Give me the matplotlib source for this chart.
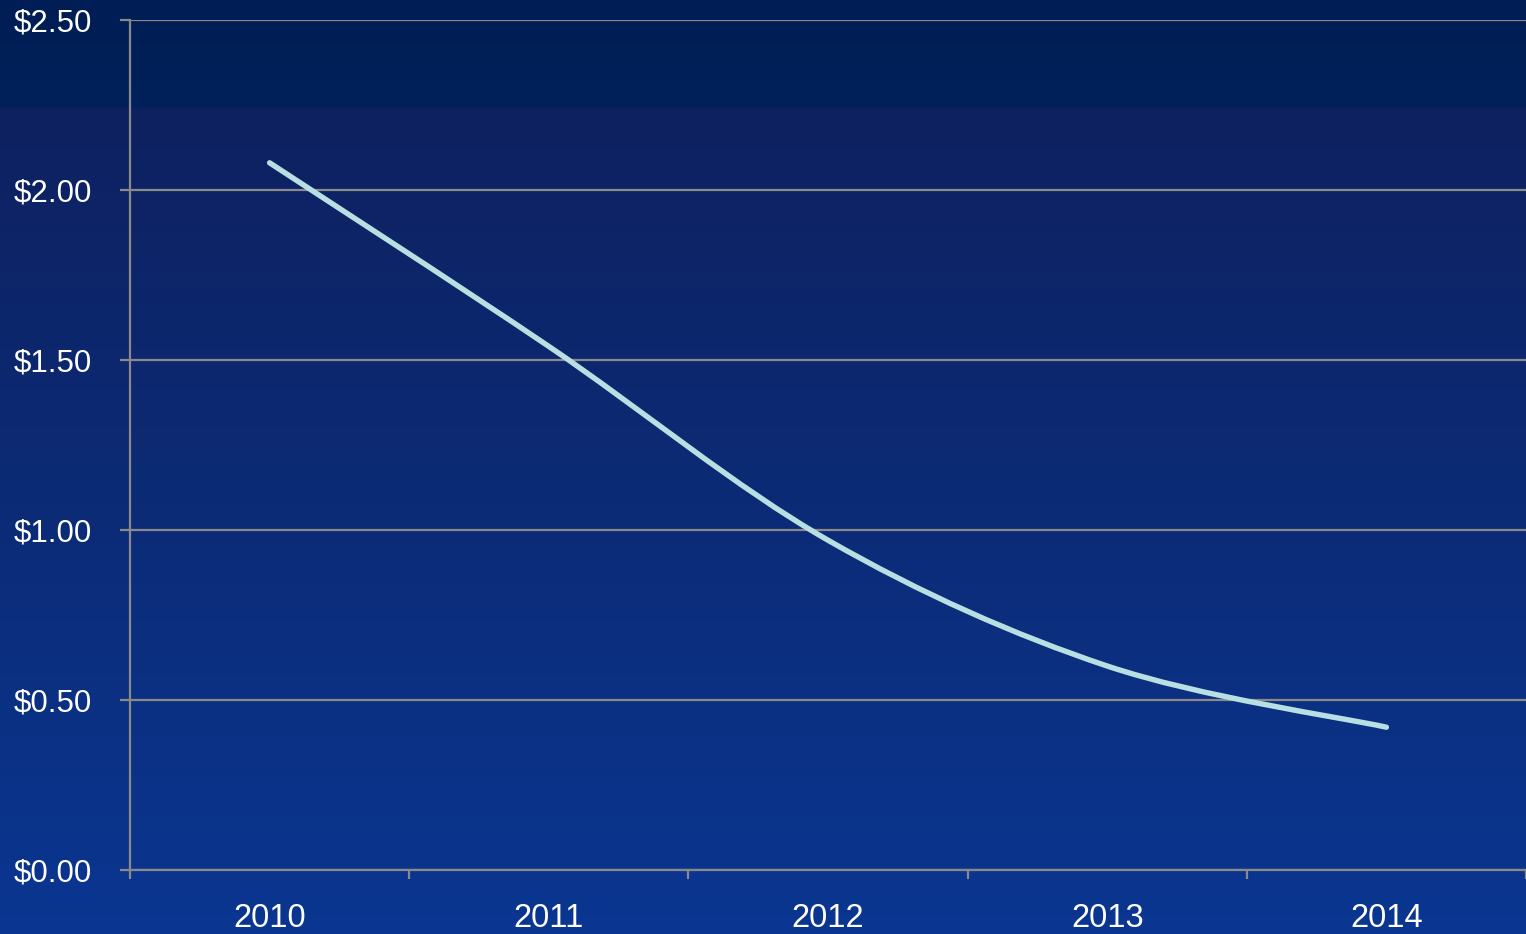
import numpy as np
import matplotlib
matplotlib.use("Agg")
import matplotlib.pyplot as plt
from matplotlib.path import Path
from matplotlib.patches import PathPatch
from matplotlib.colors import LinearSegmentedColormap
from matplotlib.ticker import FuncFormatter, MultipleLocator

# data
years = ["2010", "2011", "2012", "2013", "2014"]
values = [2.08, 1.54, 0.97, 0.60, 0.42]

plt.rcParams['font.family'] = ['Liberation Sans', 'DejaVu Sans']

fig = plt.figure(figsize=(15.26, 9.34), dpi=100)

# background gradient behind everything
bg = fig.add_axes([0, 0, 1, 1], zorder=0)
bg_cmap = LinearSegmentedColormap.from_list(
    "bg", [(0.0, "#001d55"), (0.11, "#00215a"), (0.115, "#0e2160"),
           (0.5, "#0c2a74"), (1.0, "#0a3691"), ])
grad = np.linspace(0, 1, 400).reshape(-1, 1)
bg.imshow(grad, aspect="auto", cmap=bg_cmap, extent=[0, 1, 0, 1], origin="upper")
bg.set_axis_off()

ax = fig.add_axes([130 / 1526, 1 - 870 / 934, 1 - 130 / 1526, 850 / 934], zorder=1)
ax.patch.set_alpha(0)

x = np.arange(len(years))

# Excel-like smoothed line: cubic bezier through the points
verts = [(x[0], values[0])]
codes = [Path.MOVETO]
for i in range(len(x) - 1):
    p0 = (x[max(i - 1, 0)], values[max(i - 1, 0)])
    p1 = (x[i], values[i])
    p2 = (x[i + 1], values[i + 1])
    p3 = (x[min(i + 2, len(x) - 1)], values[min(i + 2, len(x) - 1)])
    c1 = (p1[0] + (p2[0] - p0[0]) / 6, p1[1] + (p2[1] - p0[1]) / 6)
    c2 = (p2[0] - (p3[0] - p1[0]) / 6, p2[1] - (p3[1] - p1[1]) / 6)
    verts += [c1, c2, p2]
    codes += [Path.CURVE4] * 3
line = PathPatch(Path(verts, codes), facecolor="none", edgecolor="#b8e0e2",
                 linewidth=3.9, capstyle="round", joinstyle="round", zorder=3)
ax.add_patch(line)

ax.set_xlim(-0.5, len(years) - 0.5)
ax.set_ylim(0, 2.5)
ax.yaxis.set_major_locator(MultipleLocator(0.5))
ax.yaxis.set_major_formatter(FuncFormatter(lambda v, p: "${:.2f}".format(v)))
ax.set_xticks(x)
ax.set_xticklabels(years)
ax.set_xticks(np.arange(-0.5, len(years), 1), minor=True)

ax.grid(axis="y", color="#8a8a8a", linewidth=1.6, zorder=1)
ax.set_axisbelow(True)
for s in ["top", "right"]:
    ax.spines[s].set_visible(False)
for s in ["left", "bottom"]:
    ax.spines[s].set_color("#8a8a8a")
    ax.spines[s].set_linewidth(1.6)

ax.tick_params(axis="y", colors="#8a8a8a", labelcolor="white", labelsize=22.5,
               length=7.2, width=1.6, pad=20)
ax.tick_params(axis="x", which="major", length=0, labelcolor="white",
               labelsize=23.5, pad=24)
ax.tick_params(axis="x", which="minor", colors="#8a8a8a", length=6.5, width=1.6)

fig.savefig("out.png", dpi=100)
